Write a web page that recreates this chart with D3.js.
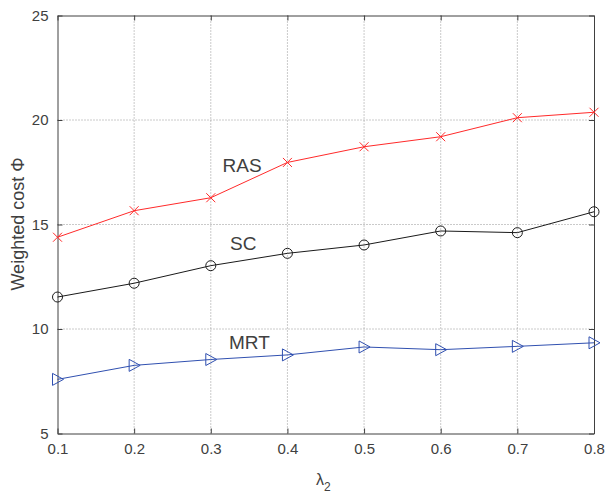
<!DOCTYPE html>
<html>
<head>
<meta charset="utf-8">
<script src="https://cdn.jsdelivr.net/npm/d3@7"></script>
<style>
  body { margin: 0; background: #fff; }
  svg text { font-family: "Liberation Sans", Arial, sans-serif; fill: #404040; }
</style>
</head>
<body>
<svg id="chart" width="605" height="494"></svg>
<script>
const lambdas = [0.1, 0.2, 0.3, 0.4, 0.5, 0.6, 0.7, 0.8];
const rasCost = [14.39, 15.66, 16.28, 17.97, 18.72, 19.2, 20.11, 20.37];
const scCost = [11.53, 12.19, 13.03, 13.62, 14.02, 14.69, 14.61, 15.61];
const mrtCost = [7.59, 8.26, 8.54, 8.76, 9.14, 9.01, 9.17, 9.34];
const yTicks = [5, 10, 15, 20, 25];

const series = [
  { name: 'RAS', values: rasCost, color: '#ff2a2a', marker: 'cross', label: [222.5, 171.5] },
  { name: 'SC', values: scCost, color: '#1a1a1a', marker: 'circle', label: [230, 250] },
  { name: 'MRT', values: mrtCost, color: '#3050b0', marker: 'triangle', label: [229, 349] }
];

const svg = d3.select('#chart');
const margin = { top: 15.5, right: 11, bottom: 60.5, left: 57.5 };
const width = +svg.attr('width') - margin.left - margin.right;
const height = +svg.attr('height') - margin.top - margin.bottom;

const x = d3.scaleLinear().domain([0.1, 0.8]).range([0, width]);
const y = d3.scaleLinear().domain([5, 25]).range([height, 0]);

const g = svg.append('g')
  .attr('transform', `translate(${margin.left},${margin.top})`);

// grid
g.append('g')
  .selectAll('line')
  .data(lambdas.slice(1, -1))
  .enter()
  .append('line')
  .attr('x1', d => x(d)).attr('x2', d => x(d))
  .attr('y1', 0).attr('y2', height)
  .attr('stroke', '#7a7a7a')
  .attr('stroke-width', 0.8)
  .attr('stroke-dasharray', '1,2');

g.append('g')
  .selectAll('line')
  .data(yTicks.slice(1, -1))
  .enter()
  .append('line')
  .attr('x1', 0).attr('x2', width)
  .attr('y1', d => y(d)).attr('y2', d => y(d))
  .attr('stroke', '#7a7a7a')
  .attr('stroke-width', 0.8)
  .attr('stroke-dasharray', '1,2');

// axes
const xAxis = g.append('g')
  .attr('transform', `translate(0,${height})`)
  .call(d3.axisBottom(x).tickValues(lambdas).tickFormat(d3.format('.1f')).tickSizeInner(-5).tickSizeOuter(0).tickPadding(14));
g.append('g')
  .call(d3.axisLeft(y).tickValues(yTicks).tickSizeInner(-5).tickSizeOuter(0).tickPadding(9));
g.append('g')
  .call(d3.axisTop(x).tickValues(lambdas).tickFormat('').tickSizeInner(-5).tickSizeOuter(0));
g.append('g')
  .attr('transform', `translate(${width},0)`)
  .call(d3.axisRight(y).tickValues(yTicks).tickFormat('').tickSizeInner(-5).tickSizeOuter(0));

g.selectAll('.domain, .tick line').attr('stroke', '#404040');
g.selectAll('.tick text').attr('font-size', 15).attr('fill', '#404040');
xAxis.selectAll('.tick text').attr('dy', '0.4em');

// lines
const line = d3.line()
  .x((d, i) => x(lambdas[i]))
  .y(d => y(d));

series.forEach(s => {
  g.append('path')
    .datum(s.values)
    .attr('fill', 'none')
    .attr('stroke', s.color)
    .attr('stroke-width', 1)
    .attr('d', line);

  const m = g.append('g')
    .selectAll('g')
    .data(s.values)
    .enter()
    .append('g')
    .attr('transform', (d, i) => `translate(${x(lambdas[i])},${y(d)})`);

  if (s.marker === 'cross') {
    m.append('path').attr('d', 'M-4.5,-4.5L4.5,4.5M-4.5,4.5L4.5,-4.5')
      .attr('stroke', s.color).attr('stroke-width', 1).attr('fill', 'none');
  } else if (s.marker === 'circle') {
    m.append('circle').attr('r', 5)
      .attr('stroke', s.color).attr('stroke-width', 1).attr('fill', 'none');
  } else {
    m.append('path').attr('d', 'M-5,-6L6,0L-5,6Z')
      .attr('stroke', s.color).attr('stroke-width', 1).attr('fill', 'none');
  }

  svg.append('text')
    .attr('x', s.label[0])
    .attr('y', s.label[1])
    .attr('font-size', 19)
    .text(s.name);
});

// axis titles
const xt = svg.append('text')
  .attr('x', 316)
  .attr('y', 485)
  .attr('font-size', 16);
xt.append('tspan').text('λ');
xt.append('tspan').attr('dy', 6).attr('font-size', 12).text('2');

svg.append('text')
  .attr('transform', 'translate(24,224) rotate(-90)')
  .attr('text-anchor', 'middle')
  .attr('font-size', 18)
  .text('Weighted cost Φ');
</script>
</body>
</html>
